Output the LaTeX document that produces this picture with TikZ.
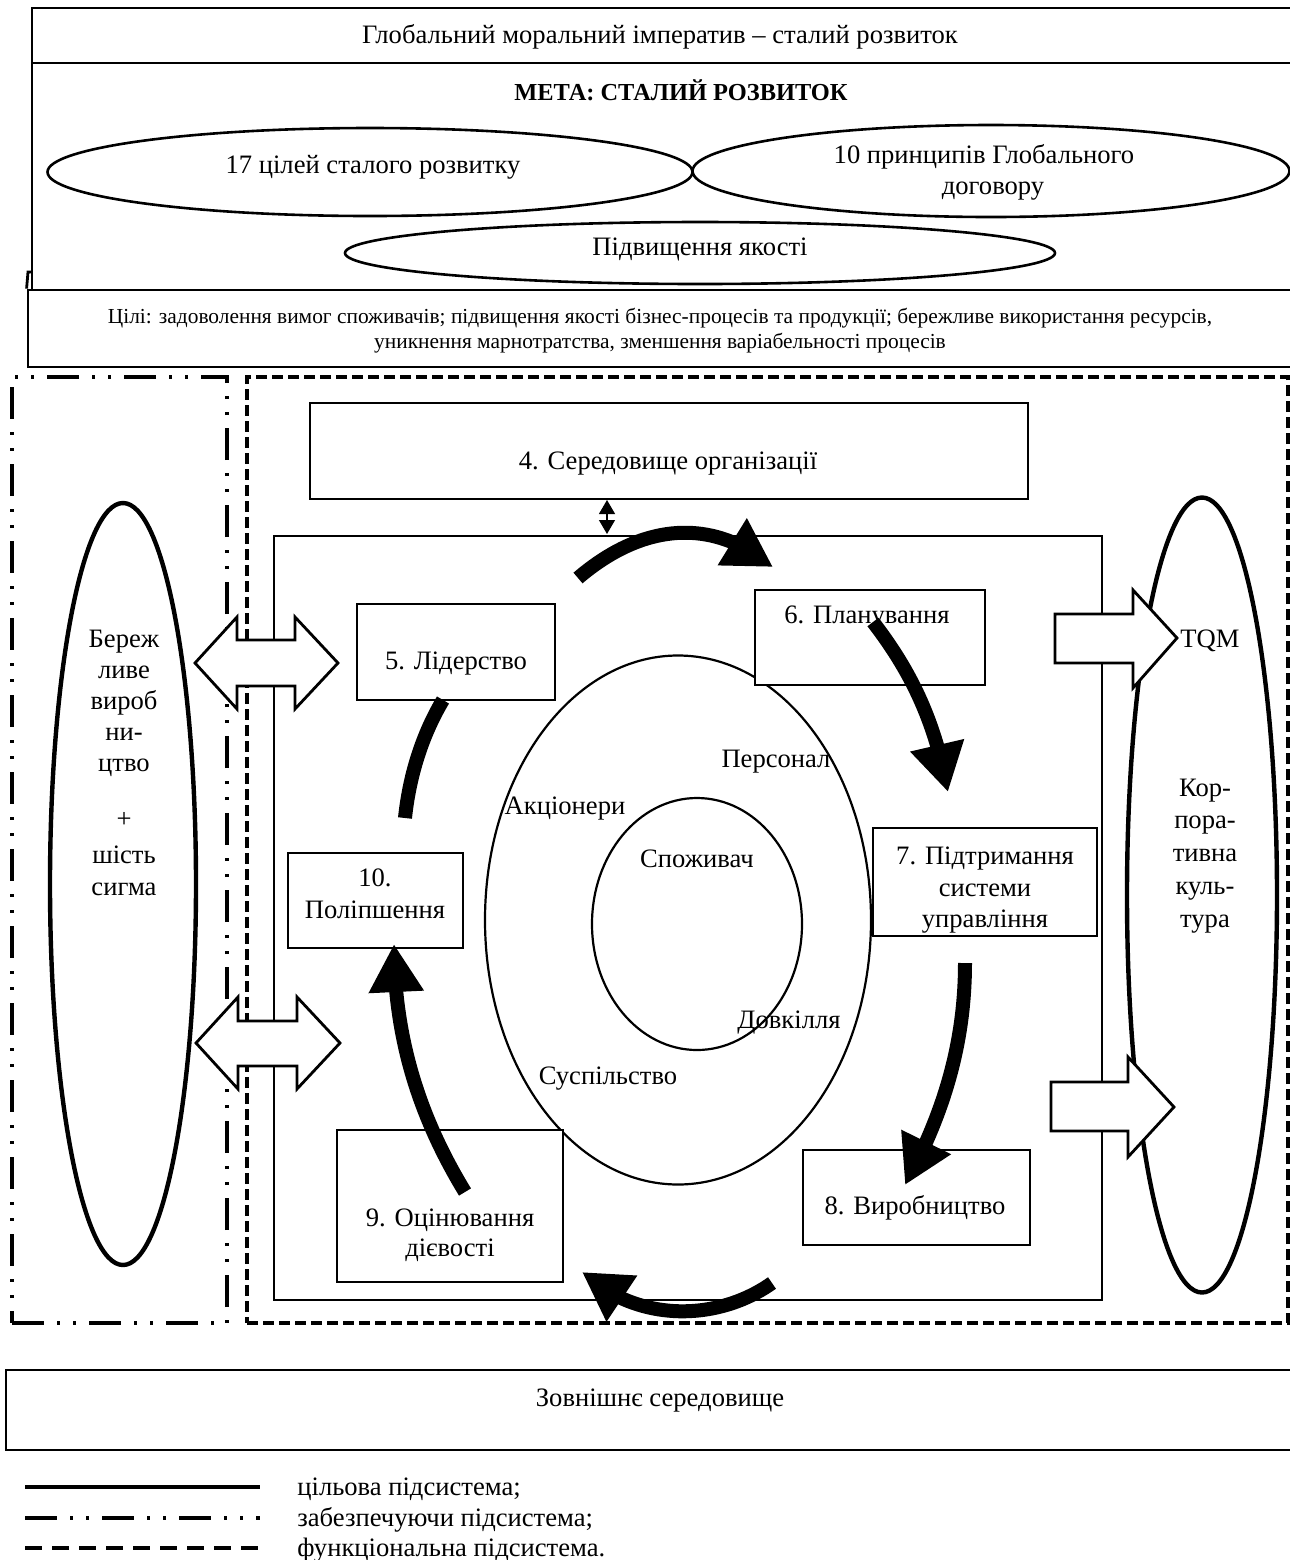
\documentclass[tikz,border=0pt]{standalone}
\usepackage{fontspec}
\setmainfont{Liberation Serif}
\usetikzlibrary{arrows.meta,bending,shapes.geometric}
\begin{document}
\begin{tikzpicture}[x=0.5pt,y=-0.5pt,
  frame/.style={draw, line width=1.4pt, inner sep=0pt},
  box/.style={draw, line width=1.3pt, fill=white, inner sep=0pt},
  ell/.style={draw, ellipse, line width=1.3pt, inner sep=0pt},
  cell/.style={draw, ellipse, line width=1.1pt, inner sep=0pt},
  bigell/.style={draw, ellipse, line width=2.2pt, inner sep=0pt},
  txt/.style={font=\fontsize{13.3}{16}\selectfont, inner sep=0pt, anchor=base},
  stxt/.style={font=\fontsize{10.7}{12.5}\selectfont, inner sep=0pt, anchor=base},
  ltxt/.style={font=\fontsize{13.3}{16}\selectfont, inner sep=0pt, anchor=base west},
  dashdotbox/.style={draw, inner sep=0pt, line width=2.2pt, dash pattern=on 16pt off 6.5pt on 1.5pt off 6.5pt on 1.5pt off 6.5pt},
  dashbox/.style={draw, inner sep=0pt, line width=2pt, dash pattern=on 5.5pt off 2.5pt},
  bigarrow/.style={line width=7pt, -{Triangle[length=24pt,width=26pt,flex]}},
  bigline/.style={line width=7pt},
  blockarrow/.style={draw, line width=1.4pt, fill=white, line join=miter},
  smallarrow/.style={line width=0.6pt, {Triangle[length=7pt,width=8pt]}-{Triangle[length=7pt,width=8pt]}}
]
\useasboundingbox (0,0) rectangle (1290,1560);
\fill[white] (0,0) rectangle (1290,1560);
\clip (0,0) rectangle (1290,1560);

% ---------- top part ----------
\node[frame, minimum width=639pt, minimum height=27.5pt] (g1) at (671,35.5) {};
\node[frame, minimum width=639pt, minimum height=113.5pt] (g2) at (671,176.5) {};
\node[frame, minimum width=641pt, minimum height=38.5pt] (g3) at (669,328.5) {};
\coordinate (g3a) at (32,272);
\coordinate (g3b) at (28,272);
\draw[line width=1.4pt] (g3a) -- (g3b) -- (g3.north west);

\node[ell, minimum width=322.5pt, minimum height=44pt] (e1) at (370,172) {};
\node[ell, minimum width=298.5pt, minimum height=46pt] (e2) at (991,171) {};
\node[ell, minimum width=355pt, minimum height=31pt] (e3) at (700,253) {};

\node[txt] (t1) at (660,43) {Глобальний моральний імператив – сталий розвиток};
\node[txt, font=\fontsize{12.2}{16}\selectfont\bfseries] (tm) at (681,100) {МЕТА: СТАЛИЙ РОЗВИТОК};
\node[txt] (te1) at (373,173) {17 цілей сталого розвитку};
\node[txt] (te2a) at (984,163) {10 принципів Глобального};
\node[txt] (te2b) at (993,194) {договору};
\node[txt] (te3) at (700,255) {Підвищення якості};
\node[stxt] (tg3a) at (660,323) {Цілі: задоволення вимог споживачів; підвищення якості бізнес-процесів та продукції; бережливе використання ресурсів,};
\node[stxt] (tg3b) at (660,348) {уникнення марнотратства, зменшення варіабельності процесів};

% ---------- subsystem frames ----------
\node[dashdotbox, minimum width=107.5pt, minimum height=473pt] (zb) at (119.5,850) {};
\node[dashbox, minimum width=520.5pt, minimum height=473pt] (fb) at (767.5,850) {};
\node[frame, line width=1.3pt, minimum width=414pt, minimum height=382pt] (ib) at (688,918) {};

% box 4
\node[box, minimum width=359pt, minimum height=48pt] (b4) at (669,451) {};
\node[txt] (t4) at (668,469) {4. Середовище організації};
\coordinate (sa) at (607,500);
\coordinate (sb) at (607,534);
\draw[smallarrow] (sa) -- (sb);

% big side ellipses
\node[bigell, minimum width=73pt, minimum height=381pt] (le) at (123,884) {};
\node[bigell, minimum width=75pt, minimum height=397.5pt] (re) at (1202,895) {};

% central ellipses
\node[cell, minimum width=193pt, minimum height=264.5pt] (oe) at (678,920) {};
\node[cell, minimum width=105pt, minimum height=126pt] (ie) at (697,924) {};

% process boxes
\node[box, minimum width=99pt, minimum height=48pt] (b5) at (456,652) {};
\node[box, minimum width=115pt, minimum height=47.5pt] (b6) at (870,637.5) {};
\node[box, minimum width=112pt, minimum height=54pt] (b7) at (985,882) {};
\node[box, minimum width=113.5pt, minimum height=47.5pt] (b8) at (916.5,1197.5) {};
\node[box, minimum width=113pt, minimum height=76pt] (b9) at (450,1206) {};
\node[box, minimum width=87.5pt, minimum height=47.5pt] (b10) at (375.5,900.5) {};

% block arrows
\draw[blockarrow] (195,663) -- (237,617) -- (237,640) -- (295,640) -- (295,617) -- (338,663)
   -- (295,709) -- (295,686) -- (237,686) -- (237,709) -- cycle;
\draw[blockarrow] (196,1043) -- (238,997) -- (238,1021) -- (297,1021) -- (297,997) -- (340,1043)
   -- (297,1089) -- (297,1066) -- (238,1066) -- (238,1089) -- cycle;
\draw[blockarrow] (1055,614) -- (1133,614) -- (1133,590) -- (1177,638) -- (1133,688) -- (1133,663) -- (1055,663) -- cycle;
\draw[blockarrow] (1051,1082) -- (1128,1082) -- (1128,1057) -- (1174,1107) -- (1128,1157) -- (1128,1131) -- (1051,1131) -- cycle;

% thick cycle arrows
\coordinate (a1s) at (578,578);  \coordinate (a1e) at (773,567);
\coordinate (a2s) at (873,622);  \coordinate (a2e) at (948,792);
\coordinate (a3s) at (965,963);  \coordinate (a3e) at (905,1185);
\coordinate (a4s) at (772,1283); \coordinate (a4e) at (582,1272);
\coordinate (a5s) at (465,1192); \coordinate (a5e) at (394,944);
\coordinate (a6s) at (405,818);  \coordinate (a6e) at (443,700);
\draw[bigarrow] (a1s) .. controls (640,525) and (710,515) .. (a1e);
\draw[bigarrow] (a2s) .. controls (910,670) and (935,720) .. (a2e);
\draw[bigarrow] (a3s) .. controls (965,1050) and (940,1120) .. (a3e);
\draw[bigarrow] (a4s) .. controls (720,1320) and (640,1325) .. (a4e);
\draw[bigarrow] (a5s) .. controls (415,1110) and (394,1030) .. (a5e);
\draw[bigline] (a6s) .. controls (410,770) and (425,730) .. (a6e);

% box texts
\node[txt] (t5) at (456,669) {5. Лідерство};
\node[txt] (t6) at (867,623) {6. Планування};
\node[txt] (t7a) at (985,864) {7. Підтримання};
\node[txt] (t7b) at (985,896) {системи};
\node[txt] (t7c) at (985,927) {управління};
\node[txt] (t8) at (915,1214) {8. Виробництво};
\node[txt] (t9a) at (450,1226) {9. Оцінювання};
\node[txt] (t9b) at (450,1256) {дієвості};
\node[txt] (t10a) at (375,886) {10.};
\node[txt] (t10b) at (375,918) {Поліпшення};

% stakeholder labels
\node[txt] (s1) at (776,767) {Персонал};
\node[txt] (s2) at (565,814) {Акціонери};
\node[txt] (s3) at (697,867) {Споживач};
\node[txt] (s4) at (789,1028) {Довкілля};
\node[txt] (s5) at (608,1084) {Суспільство};

% side texts
\node[txt] (l1) at (124,647) {Береж};
\node[txt] (l2) at (124,678) {ливе};
\node[txt] (l3) at (124,709) {вироб};
\node[txt] (l4) at (124,740) {ни-};
\node[txt] (l5) at (124,771) {цтво};
\node[txt] (l6) at (124,827) {+};
\node[txt] (l7) at (124,863) {шість};
\node[txt] (l8) at (124,895) {сигма};
\node[txt] (tqm) at (1210,647) {TQM};
\node[txt] (r1) at (1205,796) {Кор-};
\node[txt] (r2) at (1205,828) {пора-};
\node[txt] (r3) at (1205,861) {тивна};
\node[txt] (r4) at (1205,894) {куль-};
\node[txt] (r5) at (1205,927) {тура};

% external environment
\node[frame, minimum width=652pt, minimum height=40pt] (ext) at (658,1410) {};
\node[txt] (text) at (660,1406) {Зовнішнє середовище};

% legend
\coordinate (lg1a) at (25,1487); \coordinate (lg1b) at (260,1487);
\coordinate (lg2a) at (25,1518); \coordinate (lg2b) at (260,1518);
\coordinate (lg3a) at (25,1548); \coordinate (lg3b) at (260,1548);
\draw[line width=2.2pt] (lg1a) -- (lg1b);
\draw[line width=2.2pt, dash pattern=on 16pt off 6.5pt on 1.5pt off 6.5pt on 1.5pt off 6.5pt] (lg2a) -- (lg2b);
\draw[line width=2.2pt, dash pattern=on 8.5pt off 5pt] (lg3a) -- (lg3b);
\node[ltxt] (lt1) at (297,1495) {цільова підсистема;};
\node[ltxt] (lt2) at (297,1526) {забезпечуючи підсистема;};
\node[ltxt] (lt3) at (297,1556) {функціональна підсистема.};
\end{tikzpicture}
\end{document}
